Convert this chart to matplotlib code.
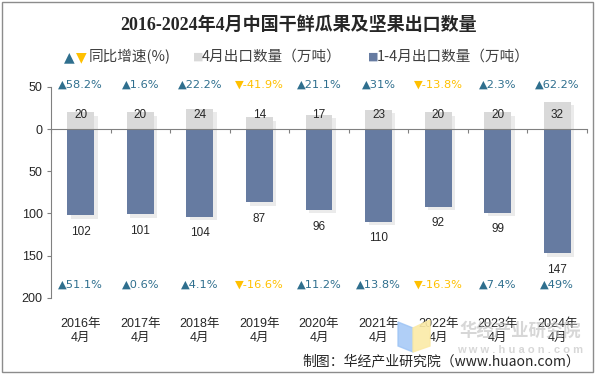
import matplotlib
matplotlib.use("Agg")
import matplotlib.pyplot as plt
import matplotlib.patheffects as pe
from matplotlib.patches import Rectangle, Polygon
from matplotlib.transforms import blended_transform_factory
import numpy as np

# data
years = ["2016年", "2017年", "2018年", "2019年", "2020年", "2021年", "2022年", "2023年", "2024年"]
apr_qty = [20, 20, 24, 14, 17, 23, 20, 20, 32]
ytd_qty = [102, 101, 104, 87, 96, 110, 92, 99, 147]
apr_yoy = [58.2, 1.6, 22.2, -41.9, 21.1, 31, -13.8, 2.3, 62.2]
ytd_yoy = [51.1, 0.6, 4.1, -16.6, 11.2, 13.8, -16.3, 7.4, 49]
y_ticks = [50, 0, -50, -100, -150, -200]

GRAY = "#d9d9d9"
BLUE = "#667ba1"
UP = "#2f6f8e"
DOWN = "#ffc000"
TXT = "#262626"
SANS = ["Liberation Sans", "Noto Sans CJK SC", "DejaVu Sans"]
CJK = ["Noto Sans CJK SC", "DejaVu Sans"]

plt.rcParams["font.family"] = SANS

fig = plt.figure(figsize=(5.98, 3.75), dpi=100)
ax = fig.add_axes([0.0853, 0.206, 0.8963, 0.5625])

x = np.arange(len(years))
shadow = [pe.SimplePatchShadow(offset=(2.5, -2.5), shadow_rgbFace="#000000", alpha=0.08), pe.Normal()]
ax.bar(x, apr_qty, width=0.45, color=GRAY, zorder=2, path_effects=shadow)
ax.bar(x, [-v for v in ytd_qty], width=0.45, color=BLUE, zorder=2, path_effects=shadow)

for i in x:
    ax.text(i, 16.5, str(apr_qty[i]), ha="center", va="center", fontsize=8.5, color=TXT, zorder=3)
    ax.annotate(str(ytd_qty[i]), (i, -ytd_qty[i]), xytext=(0, -12), textcoords="offset points",
                ha="center", va="center", fontsize=8.5, color=TXT)
    for val, yy in ((apr_yoy[i], 53), (ytd_yoy[i], -185)):
        if val >= 0:
            s, c = "▲" + f"{val:g}%", UP
        else:
            s, c = "▼" + f"{val:g}%", DOWN
        ax.text(i, yy, s, ha="center", va="center", fontsize=8.2, color=c, clip_on=False,
                family=["DejaVu Sans"])

ax.set_xlim(-0.5, len(years) - 0.5)
ax.set_ylim(-200, 50)
ax.set_yticks(y_ticks)
ax.set_yticklabels([str(abs(v)) for v in y_ticks], fontsize=9, color=TXT)
ax.tick_params(axis="y", length=3, color="#808080", pad=3)

for side in ("top", "right"):
    ax.spines[side].set_visible(False)
ax.spines["left"].set_color("#808080")
ax.spines["bottom"].set_position(("data", 0))
ax.spines["bottom"].set_color("#808080")
ax.spines["bottom"].set_zorder(4)
ax.set_xticks(np.arange(len(years) + 1) - 0.5)
ax.set_xticklabels([])
ax.tick_params(axis="x", length=3, color="#808080", direction="out")

tr = blended_transform_factory(ax.transData, ax.transAxes)
for i, yname in enumerate(years):
    ax.text(i, -0.158, yname + "\n4月", transform=tr, ha="center", va="center",
            fontsize=9, color=TXT, linespacing=1.15, clip_on=False)

# title
fig.text(0.5, 1 - 25 / 375, "2016-2024年4月中国干鲜瓜果及坚果出口数量", ha="center", va="center",
         fontsize=13, fontweight="bold", color=TXT, family=["Liberation Serif", "Noto Sans CJK SC"])

# legend drawn by hand
ly = 1 - 57 / 375
fig.text(64 / 598, ly, "▲", color=UP, fontsize=10, va="center", family=["DejaVu Sans"])
fig.text(76 / 598, ly, "▼", color=DOWN, fontsize=10, va="center", family=["DejaVu Sans"])
fig.text(89 / 598, ly, "同比增速(%)", color="#404040", fontsize=10.5, va="center", family=CJK)
fig.text(193 / 598, ly, "■", color=GRAY, fontsize=8, va="center", family=["DejaVu Sans"])
fig.text(202 / 598, ly, "4月出口数量（万吨）", color="#404040", fontsize=10.5, va="center", family=CJK)
fig.text(368 / 598, ly, "■", color=BLUE, fontsize=8, va="center", family=["DejaVu Sans"])
fig.text(377 / 598, ly, "1-4月出口数量（万吨）", color="#404040", fontsize=10.5, va="center", family=CJK)

# watermark
fig.patches.append(Polygon([[398 / 598, 1 - 322 / 375], [413 / 598, 1 - 328 / 375],
                            [413 / 598, 1 - 352 / 375], [398 / 598, 1 - 346 / 375]],
                           closed=True, transform=fig.transFigure, color="#9cc3f5", alpha=0.8, zorder=0))
fig.patches.append(Polygon([[413 / 598, 1 - 328 / 375], [430 / 598, 1 - 320 / 375],
                            [430 / 598, 1 - 346 / 375], [413 / 598, 1 - 352 / 375]],
                           closed=True, transform=fig.transFigure, color="#fbeaa6", alpha=0.9, zorder=0))
fig.text(520 / 598, 1 - 331 / 375, "华经产业研究院", ha="center", va="center", fontsize=12.5,
         fontweight="bold", color="#b0b0b0", alpha=0.5, family=CJK, zorder=0)
fig.text(520 / 598, 1 - 350 / 375, "w w w . h u a o n . c o m", ha="center", va="center", fontsize=8,
         fontweight="bold", color="#b0b0b0", alpha=0.5, zorder=0)

# source note
fig.text(580 / 598, 1 - 361 / 375, "制图：华经产业研究院（www.huaon.com）", ha="right", va="center",
         fontsize=10, color=TXT, family=CJK)

# outer frame
fig.patches.append(Rectangle((2 / 598, 3 / 375), 591 / 598, 370 / 375, transform=fig.transFigure,
                             fill=False, edgecolor="#8c8c8c", linewidth=1))

fig.savefig("out.png", dpi=100)
